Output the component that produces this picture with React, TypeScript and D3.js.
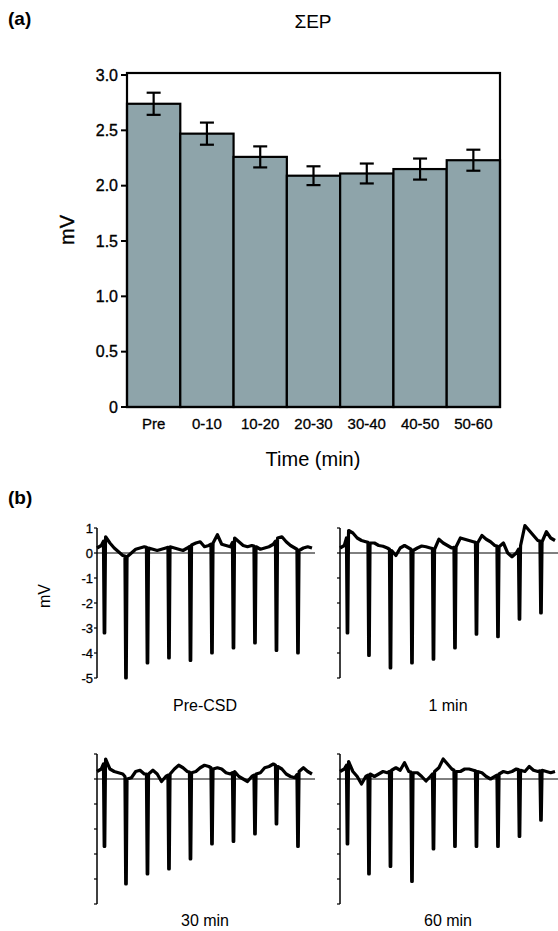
import React, { useEffect, useRef } from 'react';
import * as d3 from 'd3';

// panel (a): summed evoked potentials per time bin
const timeLabels = ['Pre', '0-10', '10-20', '20-30', '30-40', '40-50', '50-60'];
const meanEP = [2.74, 2.47, 2.26, 2.09, 2.11, 2.15, 2.23];
const semEP = [0.1, 0.1, 0.095, 0.085, 0.09, 0.095, 0.095];
const yTicksA = [0, 0.5, 1.0, 1.5, 2.0, 2.5, 3.0];

// panel (b): example traces, spike onsets (arbitrary time units 0-100)
const spikeTimes = [3, 13, 23, 33, 43, 53, 63, 73, 83, 93];
const traceTicks = [1, 0, -1, -2, -3, -4, -5];
const traceLabels = ['Pre-CSD', '1 min', '30 min', '60 min'];

// baseline read every 2 time units (t = 0..100)
const preCsdBase = [0.2, 0.3, 0.65, 0.4, 0.2, 0.05, -0.1, -0.15, 0.0, 0.15, 0.2, 0.25, 0.2, 0.15, 0.1, 0.15, 0.2, 0.25, 0.2, 0.15, 0.1, 0.2, 0.32, 0.4, 0.45, 0.25, 0.3, 0.4, 0.73, 0.35, 0.3, 0.25, 0.6, 0.45, 0.3, 0.25, 0.3, 0.25, 0.15, 0.2, 0.25, 0.35, 0.6, 0.65, 0.45, 0.3, 0.2, 0.1, 0.2, 0.25, 0.2];
const preCsdDepth = [-3.2, -5.0, -4.4, -4.2, -4.3, -4.0, -3.8, -3.6, -3.9, -4.0];

const min1Base = [0.2, 0.3, 0.9, 0.8, 0.6, 0.5, 0.45, 0.4, 0.4, 0.3, 0.27, 0.2, 0.1, -0.1, 0.2, 0.3, 0.2, 0.1, 0.2, 0.28, 0.25, 0.2, 0.15, 0.55, 0.4, 0.3, 0.2, 0.25, 0.6, 0.55, 0.5, 0.45, 0.4, 0.7, 0.55, 0.45, 0.3, 0.25, 0.4, 0.0, -0.15, 0.0, 0.3, 1.1, 0.9, 0.7, 0.5, 0.45, 0.85, 0.6, 0.5];
const min1Depth = [-3.2, -4.1, -4.6, -4.4, -4.25, -3.8, -3.25, -3.35, -2.65, -2.4];

const min30Base = [0.3, 0.4, 0.8, 0.4, 0.3, 0.25, 0.2, 0.0, 0.05, 0.3, 0.35, 0.2, 0.2, 0.35, 0.2, -0.1, 0.1, 0.2, 0.4, 0.55, 0.45, 0.3, 0.25, 0.3, 0.45, 0.55, 0.5, 0.4, 0.45, 0.4, 0.25, 0.2, 0.3, 0.1, 0.0, -0.1, 0.1, 0.2, 0.25, 0.45, 0.5, 0.6, 0.5, 0.4, 0.2, 0.1, 0.05, 0.3, 0.45, 0.3, 0.2];
const min30Depth = [-2.7, -4.2, -3.8, -3.6, -3.2, -2.6, -2.5, -2.2, -1.8, -2.7];

const min60Base = [0.3, 0.4, 0.7, 0.3, 0.1, -0.2, 0.1, 0.2, 0.1, 0.2, 0.3, 0.25, 0.35, 0.45, 0.35, 0.65, 0.3, 0.25, 0.25, 0.1, -0.08, 0.1, 0.3, 0.45, 0.8, 0.6, 0.4, 0.3, 0.3, 0.4, 0.4, 0.35, 0.3, 0.25, 0.1, 0.0, 0.1, 0.2, 0.3, 0.25, 0.3, 0.4, 0.35, 0.3, 0.5, 0.35, 0.3, 0.35, 0.3, 0.25, 0.3];
const min60Depth = [-2.6, -3.8, -3.5, -4.1, -2.8, -2.7, -2.7, -2.7, -2.3, -1.65];

const FONT = '"Liberation Sans", Arial, sans-serif';

const App = () => {
  const ref = useRef<SVGSVGElement | null>(null);

  useEffect(() => {
    const svg = d3.select(ref.current);
    svg.selectAll('*').remove();

    // ---------- panel (a) ----------
    const x = d3.scaleBand<string>().domain(timeLabels).range([127, 500]).padding(0);
    const y = d3.scaleLinear().domain([0, 3]).range([407, 75]);

    svg.append('text').attr('x', 8).attr('y', 25).attr('font-weight', 'bold')
      .attr('font-size', 19).text('(a)');
    svg.append('text').attr('x', 313).attr('y', 28).attr('text-anchor', 'middle')
      .attr('font-size', 19).text('ΣEP');

    svg.append('g').selectAll('rect').data(meanEP).join('rect')
      .attr('x', (d, i) => x(timeLabels[i]) as number)
      .attr('y', d => y(d))
      .attr('width', x.bandwidth())
      .attr('height', d => y(0) - y(d))
      .attr('fill', '#8ea4aa')
      .attr('stroke', '#000')
      .attr('stroke-width', 2.2);

    // frame
    svg.append('rect').attr('x', 127).attr('y', y(3) - 2).attr('width', 373)
      .attr('height', y(0) - y(3) + 2).attr('fill', 'none')
      .attr('stroke', '#000').attr('stroke-width', 2.2);

    // error bars
    const eb = svg.append('g').attr('stroke', '#000').attr('stroke-width', 2.2);
    meanEP.forEach((m, i) => {
      const cx = (x(timeLabels[i]) as number) + x.bandwidth() / 2;
      eb.append('line').attr('x1', cx).attr('x2', cx).attr('y1', y(m + semEP[i])).attr('y2', y(m - semEP[i]));
      eb.append('line').attr('x1', cx - 7).attr('x2', cx + 7).attr('y1', y(m + semEP[i])).attr('y2', y(m + semEP[i]));
      eb.append('line').attr('x1', cx - 7).attr('x2', cx + 7).attr('y1', y(m - semEP[i])).attr('y2', y(m - semEP[i]));
    });

    // y axis ticks
    const ya = svg.append('g');
    yTicksA.forEach(t => {
      ya.append('line').attr('x1', 121).attr('x2', 127).attr('y1', y(t)).attr('y2', y(t))
        .attr('stroke', '#000').attr('stroke-width', 2);
      ya.append('text').attr('x', 118).attr('y', y(t)).attr('dy', '0.36em')
        .attr('text-anchor', 'end').attr('font-size', 16)
        .attr('stroke', '#000').attr('stroke-width', 0.35)
        .text(t === 0 ? '0' : t.toFixed(1));
    });

    svg.append('g').selectAll('text').data(timeLabels).join('text')
      .attr('x', d => (x(d) as number) + x.bandwidth() / 2)
      .attr('y', 429)
      .attr('text-anchor', 'middle')
      .attr('font-size', 15)
      .attr('stroke', '#000').attr('stroke-width', 0.3)
      .text(d => d);

    svg.append('text').attr('transform', 'translate(74,230) rotate(-90)')
      .attr('text-anchor', 'middle').attr('font-size', 20)
      .attr('stroke', '#000').attr('stroke-width', 0.4).text('mV');
    svg.append('text').attr('x', 313).attr('y', 466).attr('text-anchor', 'middle')
      .attr('font-size', 20).text('Time (min)');

    // ---------- panel (b) ----------
    svg.append('text').attr('x', 8).attr('y', 504).attr('font-weight', 'bold')
      .attr('font-size', 19).text('(b)');
    svg.append('text').attr('transform', 'translate(50,596) rotate(-90)')
      .attr('text-anchor', 'middle').attr('font-size', 16).text('mV');

    const bases = [preCsdBase, min1Base, min30Base, min60Base];
    const depths = [preCsdDepth, min1Depth, min30Depth, min60Depth];
    const colX = [97, 340];
    const rowTop = [528, 754];
    const labelY = [711, 926];

    bases.forEach((base, k) => {
      const x0 = colX[k % 2];
      const y1 = rowTop[Math.floor(k / 2)];
      const tx = d3.scaleLinear().domain([0, 100]).range([x0, x0 + 215]);
      const ty = d3.scaleLinear().domain([1, -5]).range([y1, y1 + 150]);
      const baseTimes = base.map((_, i) => i * 2);
      const b = d3.scaleLinear().domain(baseTimes).range(base);

      const pts: [number, number][] = base.map((v, i) => [baseTimes[i], v]);
      spikeTimes.forEach((ts, j) => {
        const d = depths[k][j];
        pts.push([ts, b(ts)]);
        pts.push([ts + 0.35, d]);
        pts.push([ts + 0.6, d]);
        pts.push([ts + 0.95, b(ts + 0.95) - 0.15]);
      });
      pts.sort((p, q) => p[0] - q[0]);

      const g = svg.append('g');
      // zero line
      g.append('line').attr('x1', x0).attr('x2', x0 + 218).attr('y1', ty(0)).attr('y2', ty(0))
        .attr('stroke', '#000').attr('stroke-width', 1);
      // axis
      g.append('line').attr('x1', x0).attr('x2', x0).attr('y1', ty(1)).attr('y2', ty(-5))
        .attr('stroke', '#000').attr('stroke-width', 1.5);
      traceTicks.forEach(t => {
        g.append('line').attr('x1', x0 - 3).attr('x2', x0).attr('y1', ty(t)).attr('y2', ty(t))
          .attr('stroke', '#000').attr('stroke-width', 1.2);
        if (k === 0) {
          g.append('text').attr('x', x0 - 4).attr('y', ty(t)).attr('dy', '0.36em')
            .attr('text-anchor', 'end').attr('font-size', 13)
            .attr('stroke', '#000').attr('stroke-width', 0.3).text(String(t));
        }
      });

      const line = d3.line<[number, number]>().x(p => tx(p[0])).y(p => ty(p[1]));
      g.append('path').attr('d', line(pts) as string).attr('fill', 'none')
        .attr('stroke', '#000').attr('stroke-width', 3.2).attr('stroke-linejoin', 'round');

      g.append('text').attr('x', x0 + 108).attr('y', labelY[Math.floor(k / 2)])
        .attr('text-anchor', 'middle').attr('font-size', 16).text(traceLabels[k]);
    });
  }, []);

  return (
    <svg ref={ref} width={558} height={931}
      style={{ position: 'absolute', left: 0, top: 0, background: '#fff', fontFamily: FONT }} />
  );
};

export default App;
